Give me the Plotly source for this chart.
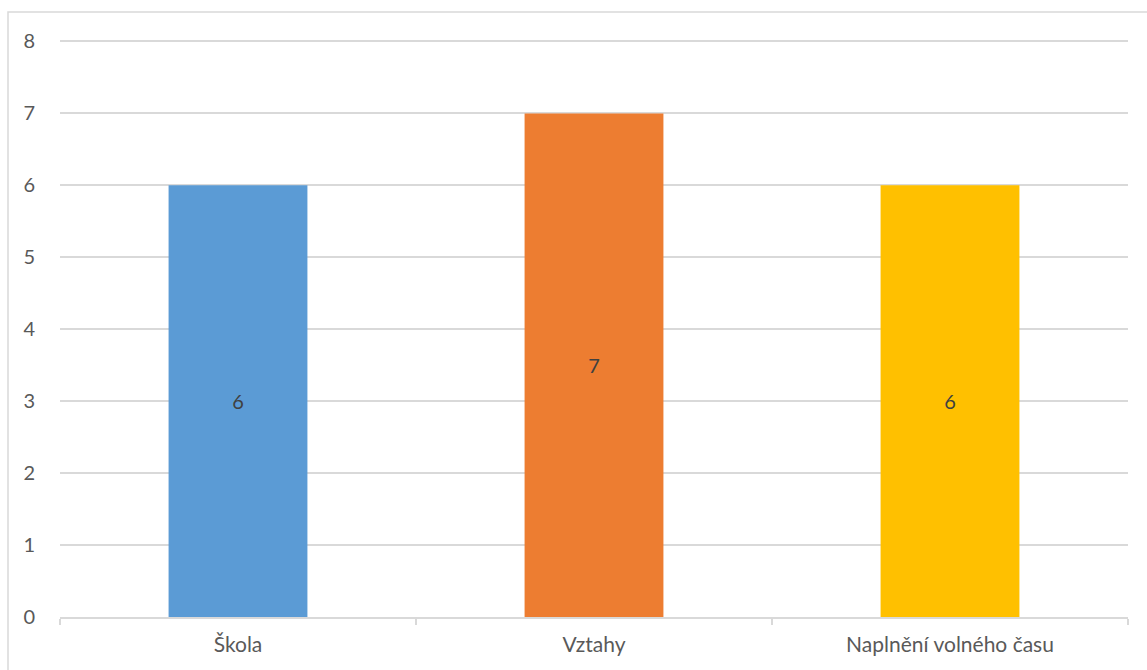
import plotly.graph_objects as go

categories = ["Škola", "Vztahy", "Naplnění volného času"]
values = [6, 7, 6]
bar_colors = ["#5B9BD5", "#ED7D31", "#FFC000"]
y_ticks = [0, 1, 2, 3, 4, 5, 6, 7, 8]

W, H = 1147, 670
L, R, T, B = 60, 19, 40, 53
pw, ph = W - L - R, H - T - B
FONT = "Lato, Open Sans, sans-serif"

fig = go.Figure(
    go.Bar(
        x=categories,
        y=values,
        marker=dict(color=bar_colors, line=dict(width=0)),
        width=0.39,
        text=[str(v) for v in values],
        textposition="inside",
        insidetextanchor="middle",
        textfont=dict(family=FONT, size=20, color="#404040"),
        hoverinfo="skip",
    )
)

# outer chart frame (extends past the right and bottom page edges)
fig.add_shape(
    type="rect", xref="paper", yref="paper",
    x0=(8 - L) / pw, x1=(W + 5 - L) / pw,
    y0=(T + ph - (H + 5)) / ph, y1=(T + ph - 12) / ph,
    line=dict(color="#D9D9D9", width=1.5), fillcolor="rgba(0,0,0,0)",
    layer="below",
)

fig.update_layout(
    width=W, height=H,
    margin=dict(l=L, r=R, t=T, b=B),
    paper_bgcolor="white", plot_bgcolor="white",
    showlegend=False,
    font=dict(family=FONT, size=20, color="#595959"),
    xaxis=dict(
        type="category",
        range=[-0.5, 2.5],
        tickson="boundaries",
        ticks="outside", ticklen=6, tickcolor="#D9D9D9", tickwidth=1.5,
        showline=True, linecolor="#D9D9D9", linewidth=1.5,
        showgrid=False, zeroline=False,
        ticklabelstandoff=8,
        tickfont=dict(family=FONT, size=21, color="#595959"),
    ),
    yaxis=dict(
        range=[0, 8.02],
        tickvals=y_ticks,
        showgrid=True, gridcolor="#D9D9D9", gridwidth=1.5,
        zeroline=False, showline=False,
        ticks="", ticklabelstandoff=24,
        tickfont=dict(family=FONT, size=20, color="#595959"),
    ),
)

fig.write_html("out.html")
